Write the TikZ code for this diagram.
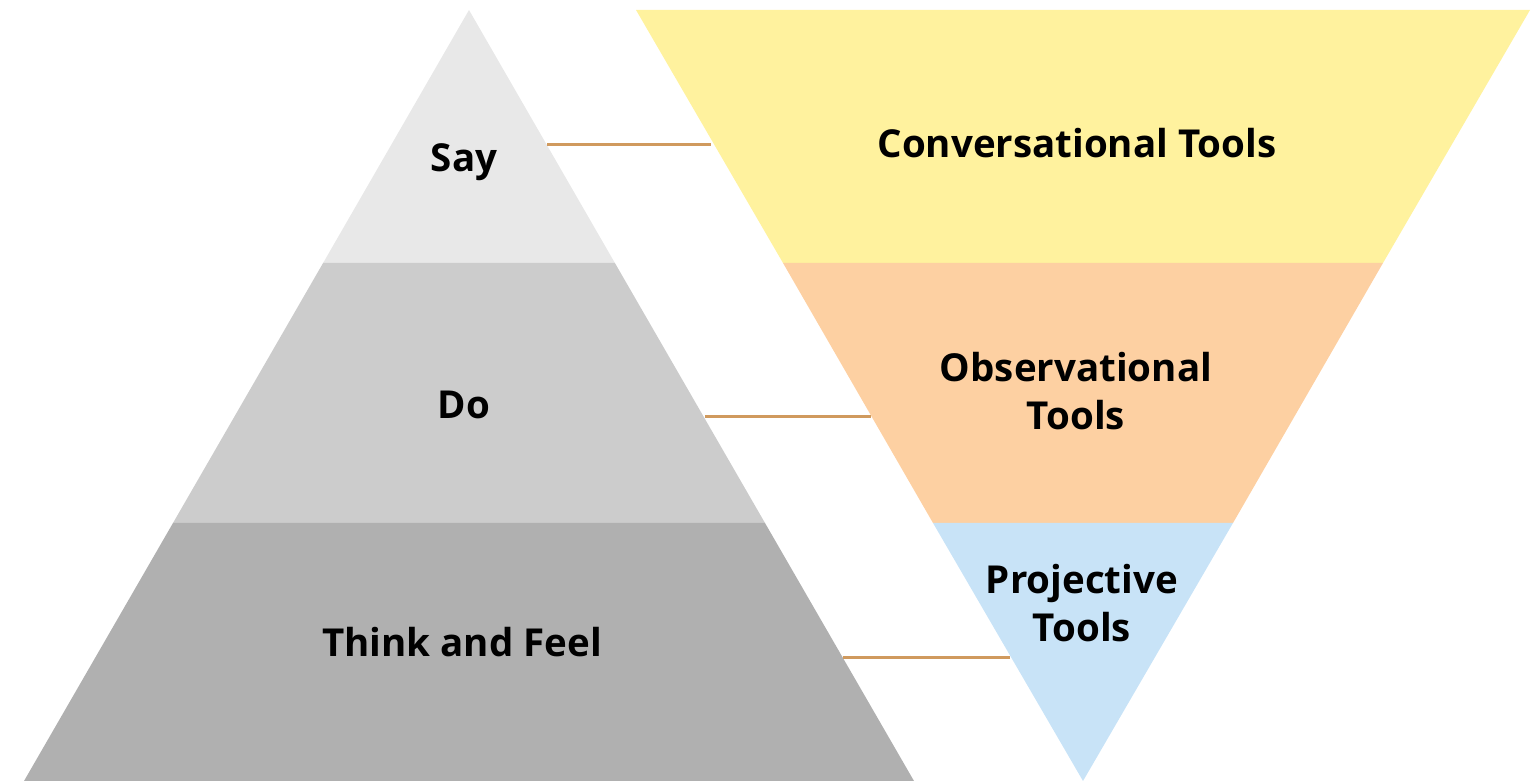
\documentclass[tikz,border=0pt]{standalone}
\usepackage{fontspec}
\setmainfont{Open Sans}
\definecolor{sayc}{HTML}{E8E8E8}
\definecolor{doc}{HTML}{CCCCCC}
\definecolor{thinkc}{HTML}{B0B0B0}
\definecolor{yel}{HTML}{FFF29E}
\definecolor{ora}{HTML}{FDD0A2}
\definecolor{blu}{HTML}{C8E3F7}
\definecolor{linkc}{HTML}{D09A5E}
\begin{document}
\begin{tikzpicture}[x=1pt,y=1pt,
  lbl/.style={font=\bfseries\fontsize{38.5}{48}\selectfont, align=center, inner sep=0pt},
  link/.style={draw=linkc, line width=3pt}]
\useasboundingbox (0,0) rectangle (1534,781);
% pyramid (y up: py -> 781-py)
\fill[sayc] (469,771) -- (614.9,518) -- (323.1,518) -- cycle;
\fill[doc] (323.1,518) -- (614.9,518) -- (765,258) -- (173,258) -- cycle;
\fill[thinkc] (173,258) -- (765,258) -- (914,0) -- (24,0) -- cycle;
% inverted
\fill[yel] (636,771) -- (1530,771) -- (1383,518) -- (783,518) -- cycle;
\fill[ora] (783,518) -- (1383,518) -- (1233,258) -- (933,258) -- cycle;
\fill[blu] (933,258) -- (1233,258) -- (1083,0) -- cycle;
% labels
\node[lbl] (say) at (464,619) {Say};
\node[lbl] (do) at (464,376) {Do};
\node[lbl] (think) at (462,139) {Think and Feel};
\node[lbl] (conv) at (1077,638) {Conversational Tools};
\node[lbl] (obs) at (1076,390) {Observational\\Tools};
\node[lbl] (proj) at (1082,178) {Projective\\Tools};
% connectors
\coordinate (s1) at (547,636);
\coordinate (s2) at (711,636);
\coordinate (d1) at (705,364);
\coordinate (d2) at (871,364);
\coordinate (t1) at (843,123);
\coordinate (t2) at (1010,123);
\draw[link] (s1) -- (s2);
\draw[link] (d1) -- (d2);
\draw[link] (t1) -- (t2);
\end{tikzpicture}
\end{document}
